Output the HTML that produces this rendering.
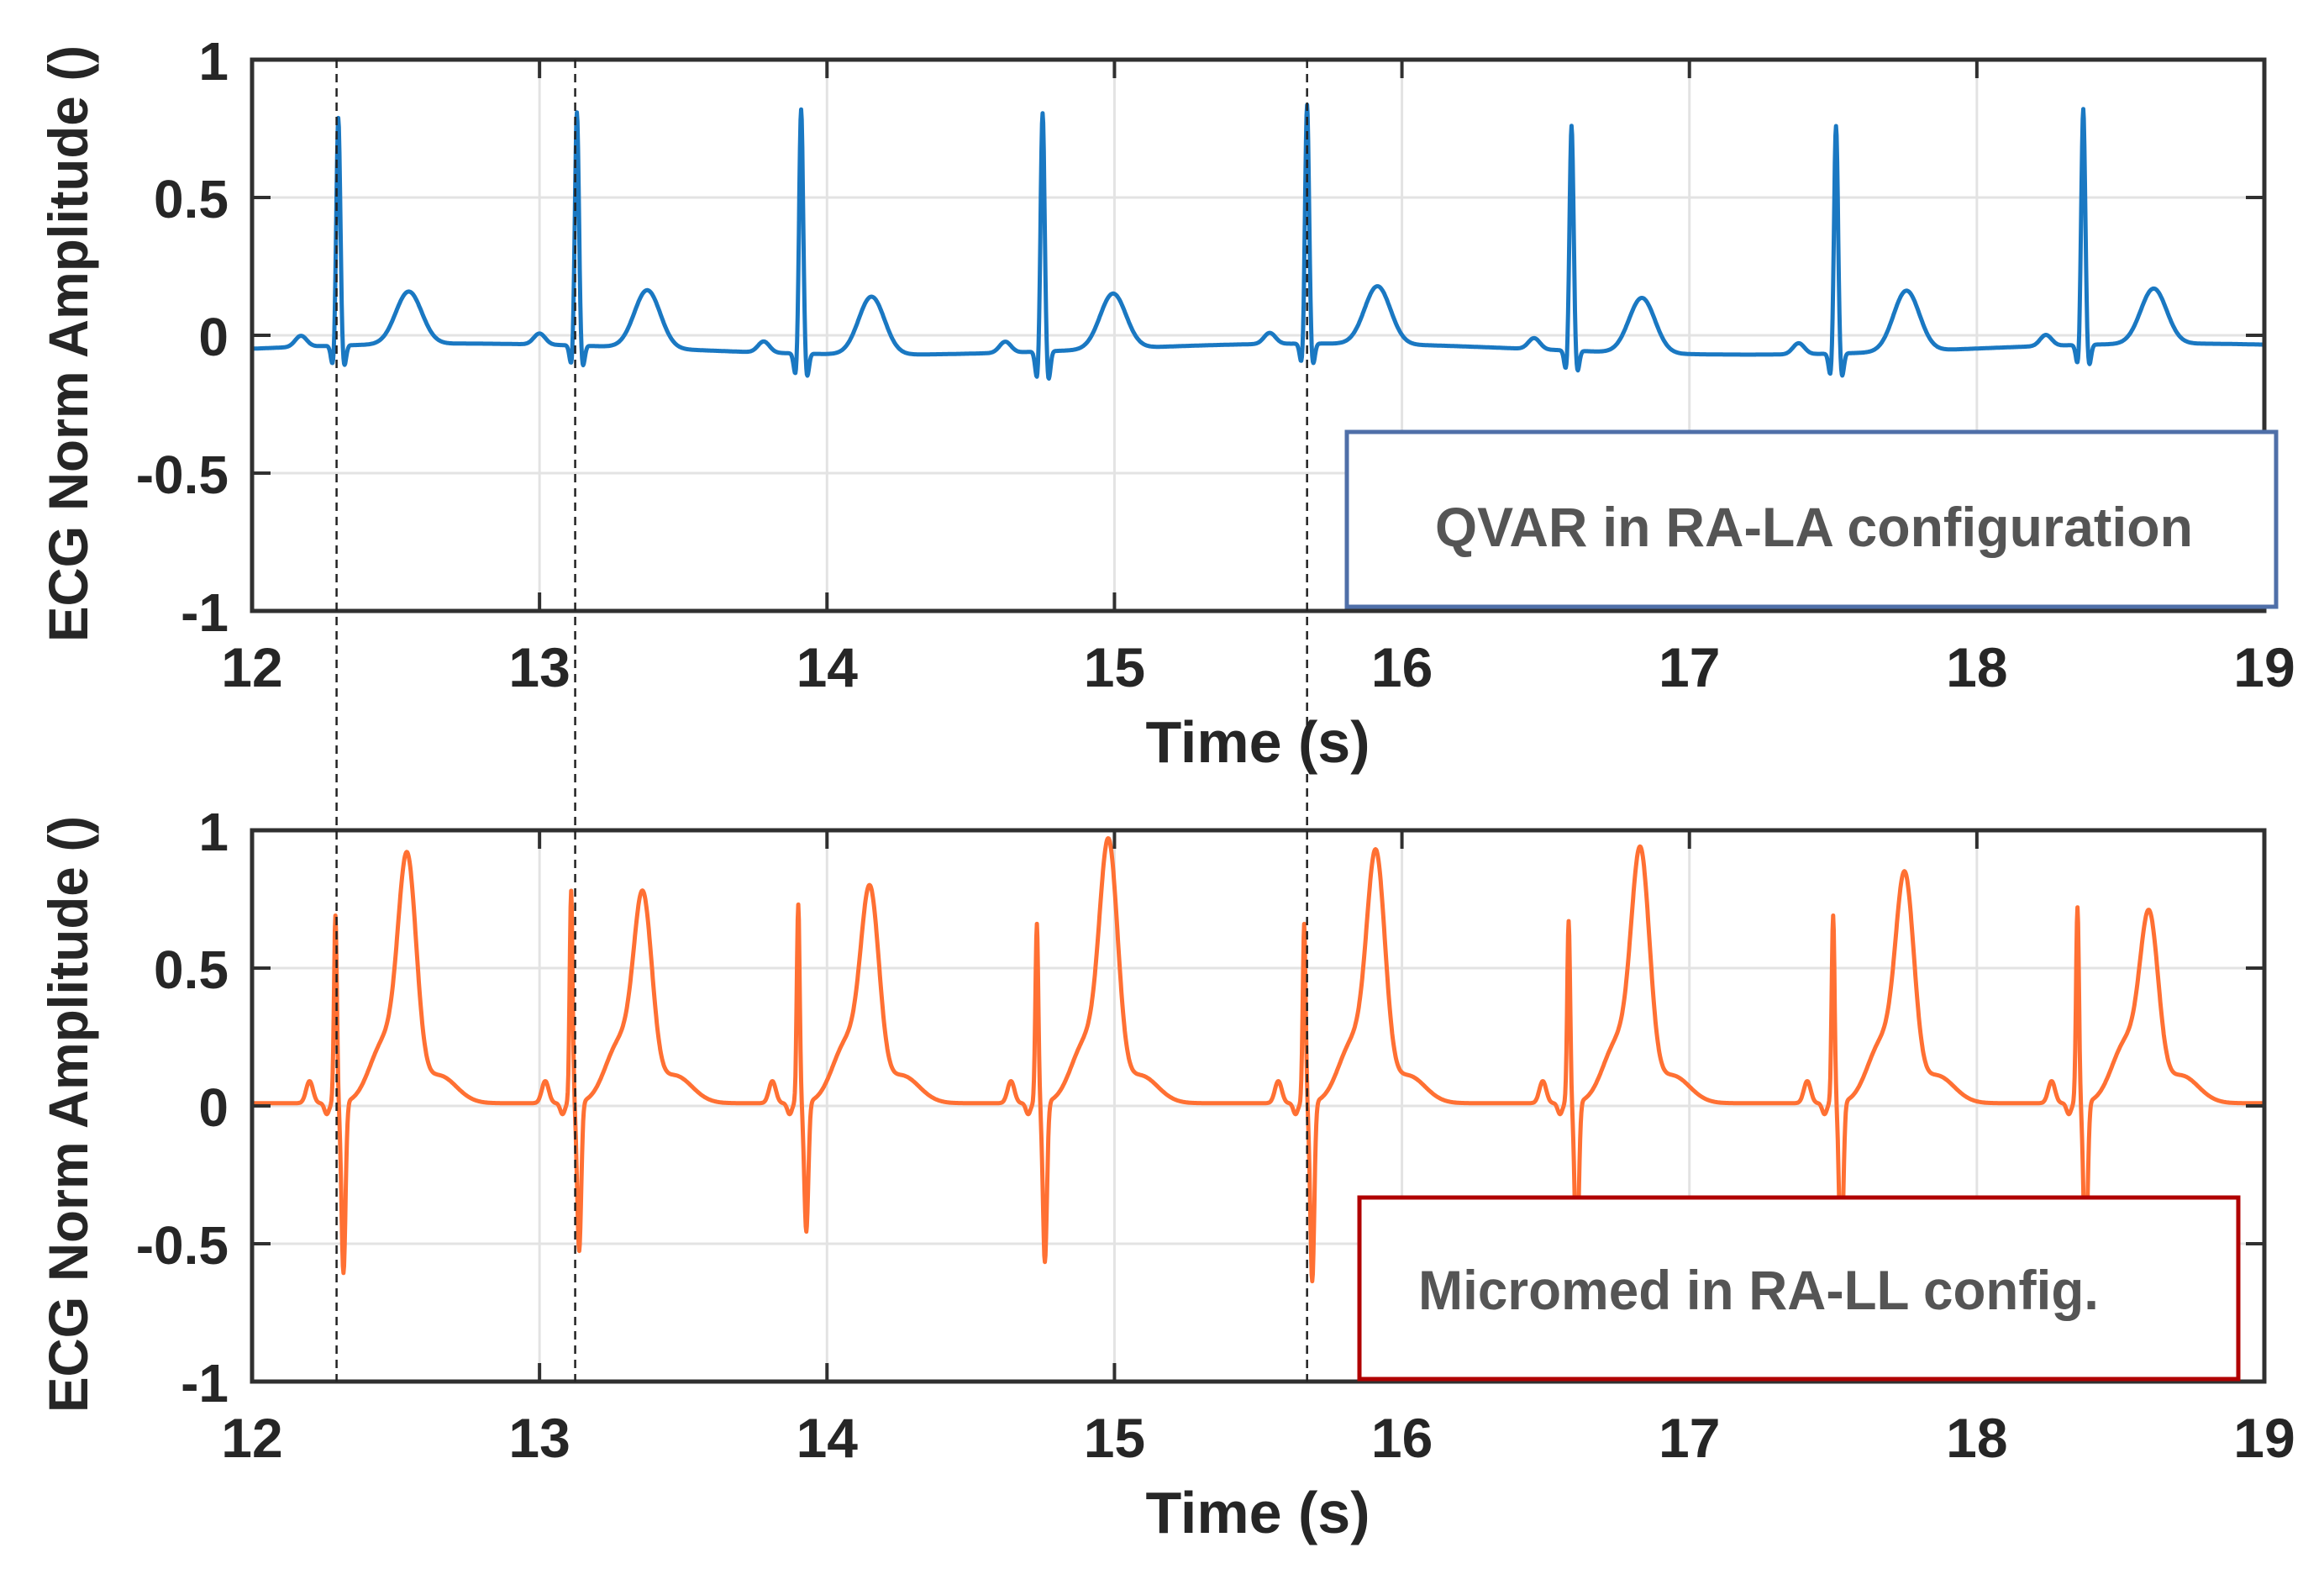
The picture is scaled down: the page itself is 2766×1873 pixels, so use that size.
<!DOCTYPE html>
<html><head><meta charset="utf-8"><style>
html,body{margin:0;padding:0;background:#fff;}
svg{display:block;}
text{font-family:"Liberation Sans",Arial,sans-serif;}
</style></head><body>
<svg id="fig" width="2766" height="1873" viewBox="0 0 2766 1873" xmlns="http://www.w3.org/2000/svg"></svg>
<script>
// ---- data ----
const xTicks = [12,13,14,15,16,17,18,19];
const yTicks = [1,0.5,0,-0.5,-1];
const yTickLabels = ["1","0.5","0","-0.5","-1"];
const markerTimes = [12.294, 13.124, 15.67];
// QVAR (blue) beats
const qvarR = [12.30,13.13,13.91,14.75,15.67,16.59,17.51,18.37];
const qvarRAmp = [0.75,0.77,0.81,0.79,0.79,0.74,0.75,0.78];
const qvarTAmp = [0.14,0.16,0.16,0.15,0.16,0.15,0.17,0.15];
const qvarSAmp = [-0.13,-0.13,-0.14,-0.16,-0.13,-0.13,-0.14,-0.13];
// Micromed (orange) beats
const microR = [12.29,13.11,13.90,14.73,15.66,16.58,17.50,18.35];
const microRAmp = [0.68,0.77,0.72,0.65,0.65,0.66,0.68,0.71];
const microSAmp = [-0.62,-0.54,-0.47,-0.58,-0.65,-0.60,-0.60,-0.60];
const microTAmp = [0.92,0.78,0.80,0.97,0.93,0.94,0.85,0.71];

const NS="http://www.w3.org/2000/svg";
const svg=document.getElementById('fig');
function el(tag,attrs,parent){const e=document.createElementNS(NS,tag);for(const k in attrs)e.setAttribute(k,attrs[k]);(parent||svg).appendChild(e);return e;}
const X0=300,X1=2695;
function xs(t){return X0+(t-12)/(19-12)*(X1-X0);}
function g(t,c,w){return Math.exp(-0.5*((t-c)/w)**2);}

function qvarSignal(t){
  let v=-0.05+0.02*Math.sin(t*2.1);
  for(let i=0;i<qvarR.length;i++){const r=qvarR[i];
    v+=0.04*g(t,r-0.13,0.02);
    v+=(qvarSAmp[i]+0.05)*g(t,r-0.018,0.007);
    v+=(qvarRAmp[i]+0.08)*g(t,r,0.007);
    v+=(qvarSAmp[i]+0.05)*g(t,r+0.02,0.007);
    v+=(qvarTAmp[i]+0.05)*g(t,r+0.245,0.045);
  }
  return v;
}
const shoulderAtT = 0.22*Math.exp(-0.5*(0.08/0.05)**2)+0.1*Math.exp(-0.5*(0.11/0.06)**2)+0.01;
function microSignal(t){
  let v=0.01;
  for(let i=0;i<microR.length;i++){const r=microR[i];
    v+=0.08*g(t,r-0.09,0.012);
    v+=-0.04*g(t,r-0.03,0.008);
    v+=(microRAmp[i])*g(t,r,0.005);
    v+=(microSAmp[i])*g(t,r+0.028,0.007);
    v+=0.22*g(t,r+0.17,0.05);
    v+=(microTAmp[i]-shoulderAtT)*g(t,r+0.25,0.032);
    v+=0.1*g(t,r+0.36,0.06);
  }
  return v;
}

function panel(id,top,bottom,signal,color,lbl,boxStroke,box){
  const ys=v=>top+(1-v)/2*(bottom-top);
  const gr=el('g',{});
  
  
  xTicks.forEach(t=>{const l=el('line',{x1:xs(t),x2:xs(t),y1:top,y2:bottom,stroke:'#e3e3e3','stroke-width':3},gr);
    });
  yTicks.forEach(v=>{const l=el('line',{x1:X0,x2:X1,y1:ys(v),y2:ys(v),stroke:'#e3e3e3','stroke-width':3},gr);
    });
  let d='';
  for(let t=12;t<=19.0001;t+=0.002){const v=signal(t);d+=(d?'L':'M')+xs(t).toFixed(1)+','+ys(v).toFixed(1);}
  const p=el('path',{d:d,fill:'none',stroke:color,'stroke-width':5,'stroke-linejoin':'round'},gr);
  
  const f=el('rect',{x:X0,y:top,width:X1-X0,height:bottom-top,fill:'none',stroke:'#303030','stroke-width':5},gr);
  
  xTicks.forEach(t=>{el('line',{x1:xs(t),x2:xs(t),y1:top,y2:top+22,stroke:'#303030','stroke-width':4},gr);
    el('line',{x1:xs(t),x2:xs(t),y1:bottom,y2:bottom-22,stroke:'#303030','stroke-width':4},gr);
    const tx=el('text',{x:xs(t),y:bottom+90,'font-size':66,'font-weight':'bold','text-anchor':'middle',fill:'#262626'},gr);
    tx.textContent=t;});
  yTicks.forEach((v,i)=>{el('line',{x1:X0,x2:X0+22,y1:ys(v),y2:ys(v),stroke:'#303030','stroke-width':4},gr);
    el('line',{x1:X1,x2:X1-22,y1:ys(v),y2:ys(v),stroke:'#303030','stroke-width':4},gr);
    const tx=el('text',{x:272,y:ys(v)+24,'font-size':64,'font-weight':'bold','text-anchor':'end',fill:'#262626'},gr);
    tx.textContent=yTickLabels[i];});
  const xt=el('text',{x:1497,y:bottom+180,'font-size':70,'font-weight':'bold','text-anchor':'middle',fill:'#262626'},gr);
  xt.textContent='Time (s)';
  const cy=(top+bottom)/2+10;
  const yt=el('text',{x:0,y:0,'font-size':66,'font-weight':'bold','text-anchor':'middle',fill:'#262626',textLength:710,lengthAdjust:'spacingAndGlyphs',transform:`translate(104,${cy}) rotate(-90)`},gr);
  yt.textContent='ECG Norm Amplitude ()';
  const b=el('rect',{x:box[0],y:box[1],width:box[2],height:box[3],fill:'#fff',stroke:boxStroke,'stroke-width':5},gr);
  
  const bt=el('text',{x:box[4],y:box[5],'font-size':66,'font-weight':'bold',fill:'#555',textLength:box[6],lengthAdjust:'spacingAndGlyphs'},gr);
  bt.textContent=lbl;
}
panel('qvar-panel',71,727,qvarSignal,'#1a78c2','QVAR in RA-LA configuration','#4f6fa8',[1603,514,1106,208,1708,650,902]);
panel('micromed-panel',988,1644,microSignal,'#ff7033','Micromed in RA-LL config.','#b00000',[1618,1425,1046,216,1688,1558,810]);
markerTimes.forEach(t=>{const l=el('line',{x1:xs(t),x2:xs(t),y1:71,y2:1644,stroke:'#222','stroke-width':2.5,'stroke-dasharray':'10,7'});
  });
</script>
</body></html>
